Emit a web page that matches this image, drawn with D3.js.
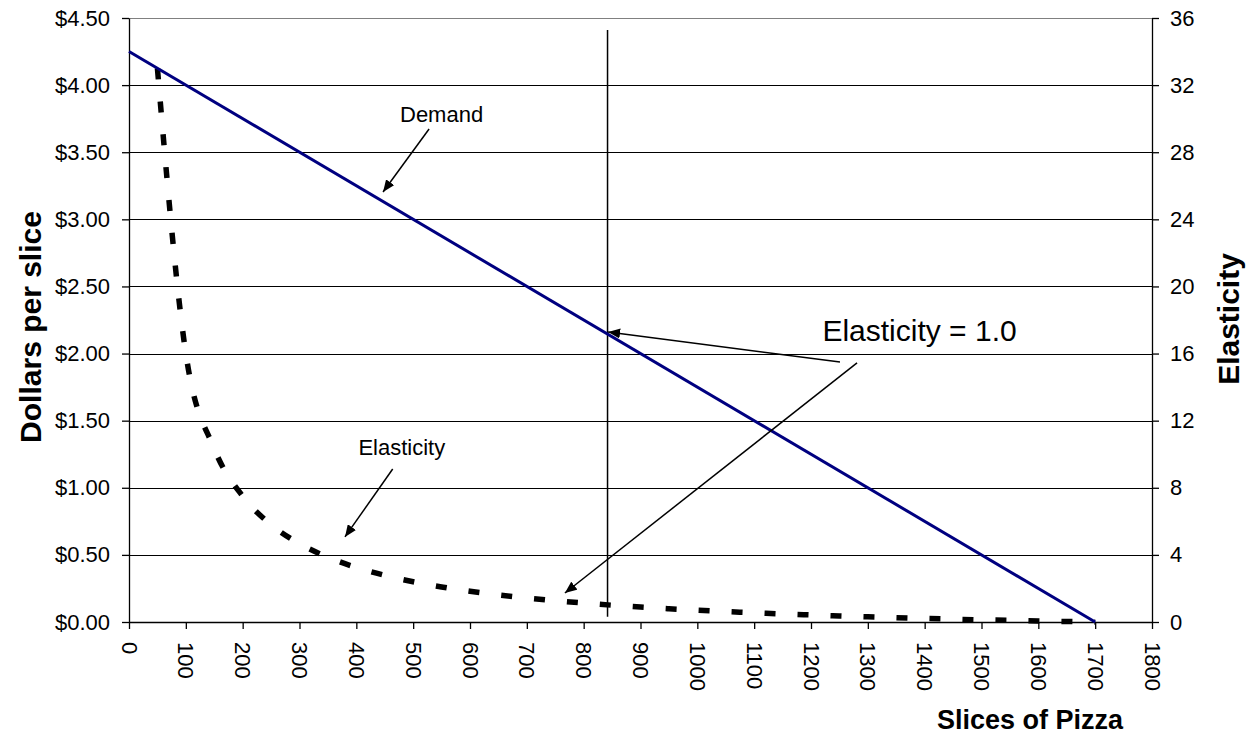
<!DOCTYPE html>
<html>
<head>
<meta charset="utf-8">
<script src="https://cdn.jsdelivr.net/npm/d3@7"></script>
<style>
  body { margin: 0; background: #fff; }
  svg { display: block; font-family: "Liberation Sans", Arial, sans-serif; }
</style>
</head>
<body>
<svg id="chart" width="1259" height="735"></svg>
<script>
// ---- Data ----
const demandQty = [0, 1700];
const demandPrice = [4.25, 0.00];

const elasticityQty = [50, 100, 150, 200, 250, 300, 350, 400, 450, 500, 550, 600, 650, 700, 750, 800, 850,
  900, 950, 1000, 1050, 1100, 1150, 1200, 1250, 1300, 1350, 1400, 1450, 1500, 1550, 1600, 1650, 1700];
const elasticityValues = [33, 16, 10.33, 7.5, 5.8, 4.67, 3.86, 3.25, 2.78, 2.4, 2.09, 1.83, 1.62, 1.43, 1.27, 1.13, 1.0,
  0.89, 0.79, 0.7, 0.62, 0.55, 0.48, 0.42, 0.36, 0.31, 0.26, 0.21, 0.17, 0.13, 0.1, 0.06, 0.03, 0];

const unitElasticQty = [842, 842];
const unitElasticPrice = [4.41, 0.04];

const xTicks = [0, 100, 200, 300, 400, 500, 600, 700, 800, 900, 1000, 1100, 1200, 1300, 1400, 1500, 1600, 1700, 1800];
const leftTicks = [0, 0.5, 1, 1.5, 2, 2.5, 3, 3.5, 4, 4.5];
const rightTicks = [0, 4, 8, 12, 16, 20, 24, 28, 32, 36];

// annotations in data coordinates (axis: "L" = price axis, "R" = elasticity axis)
const labels = [
  { text: "Demand", q: 550, v: 3.725, axis: "L", size: 22 },
  { text: "Elasticity", q: 480, v: 9.95, axis: "R", size: 22 },
  { text: "Elasticity = 1.0", q: 1391, v: 2.094, axis: "L", size: 30 }
];
const arrows = [
  { q1: 528, v1: 3.673, q2: 447, v2: 3.204, axis: "L" },
  { q1: 464, v1: 9.12, q2: 380, v2: 5.07, axis: "R" },
  { q1: 1251, v1: 1.937, q2: 843, v2: 2.161, axis: "L" },
  { q1: 1281, v1: 1.93, q2: 767, v2: 0.216, axis: "L" }
];

// ---- Layout ----
const svg = d3.select("#chart");
const mLeft = 129, mRight = 1152, mTop = 18, mBottom = 622;

const x = d3.scaleLinear().domain([0, 1800]).range([mLeft, mRight]);
const yL = d3.scaleLinear().domain([0, 4.5]).range([mBottom, mTop]);
const yR = d3.scaleLinear().domain([0, 36]).range([mBottom, mTop]);

// gridlines
svg.append("g").selectAll("line").data(leftTicks.filter(d => d > 0)).join("line")
  .attr("x1", mLeft).attr("x2", mRight)
  .attr("y1", d => Math.round(yL(d)) + 0.5).attr("y2", d => Math.round(yL(d)) + 0.5)
  .attr("stroke", d => d === 4.5 ? "#808080" : "#000").attr("stroke-width", 1);

// axes
const fmt = d3.format("$.2f");
const gL = svg.append("g").attr("transform", `translate(${mLeft},0)`)
  .call(d3.axisLeft(yL).tickValues(leftTicks).tickFormat(fmt).tickSize(7).tickPadding(12).tickSizeOuter(0));
const gR = svg.append("g").attr("transform", `translate(${mRight},0)`)
  .call(d3.axisRight(yR).tickValues(rightTicks).tickFormat(d3.format("d")).tickSize(7).tickPadding(11).tickSizeOuter(0));
const gX = svg.append("g").attr("transform", `translate(0,${mBottom})`)
  .call(d3.axisBottom(x).tickValues(xTicks).tickFormat(d3.format("d")).tickSize(7).tickSizeOuter(0));

[gL, gR, gX].forEach(g => {
  g.selectAll("path.domain").attr("stroke", "#000").attr("stroke-width", 1.3);
  g.selectAll(".tick line").attr("stroke", "#000").attr("stroke-width", 1.3);
  g.selectAll("text").attr("font-size", 22).attr("fill", "#000")
    .attr("font-family", "'Liberation Sans', Arial, sans-serif");
});
gX.selectAll(".tick text")
  .attr("transform", "rotate(90)")
  .attr("x", 20).attr("y", 0).attr("dy", "0.36em")
  .attr("text-anchor", "start");

// axis titles
svg.append("text").attr("transform", "translate(41,327) rotate(-90)")
  .attr("text-anchor", "middle").attr("font-weight", "bold").attr("font-size", 30)
  .text("Dollars per slice");
svg.append("text").attr("transform", "translate(1239,319) rotate(-90)")
  .attr("text-anchor", "middle").attr("font-weight", "bold").attr("font-size", 30)
  .text("Elasticity");
svg.append("text").attr("x", 1030).attr("y", 729)
  .attr("text-anchor", "middle").attr("font-weight", "bold").attr("font-size", 27)
  .text("Slices of Pizza");

// unit elastic vertical line
svg.append("line")
  .attr("x1", x(unitElasticQty[0])).attr("x2", x(unitElasticQty[1]))
  .attr("y1", yL(unitElasticPrice[0])).attr("y2", yL(unitElasticPrice[1]))
  .attr("stroke", "#000").attr("stroke-width", 1.5);

// elasticity curve (dashed)
const elastData = elasticityQty.map((q, i) => [q, elasticityValues[i]]);
svg.append("path").datum(elastData)
  .attr("fill", "none").attr("stroke", "#000").attr("stroke-width", 5.5)
  .attr("stroke-dasharray", "11,22")
  .attr("d", d3.line().x(d => x(d[0])).y(d => yR(d[1])).curve(d3.curveMonotoneX));

// demand line
const demandData = demandQty.map((q, i) => [q, demandPrice[i]]);
svg.append("path").datum(demandData)
  .attr("fill", "none").attr("stroke", "#000080").attr("stroke-width", 3)
  .attr("d", d3.line().x(d => x(d[0])).y(d => yL(d[1])));

// arrow marker
svg.append("defs").append("marker")
  .attr("id", "arrowhead").attr("viewBox", "0 0 12 10")
  .attr("refX", 12).attr("refY", 5)
  .attr("markerWidth", 12).attr("markerHeight", 10)
  .attr("markerUnits", "userSpaceOnUse").attr("orient", "auto")
  .append("path").attr("d", "M0,0 L12,5 L0,10 Z").attr("fill", "#000");

const yOf = a => a === "L" ? yL : yR;
svg.append("g").selectAll("line").data(arrows).join("line")
  .attr("x1", d => x(d.q1)).attr("y1", d => yOf(d.axis)(d.v1))
  .attr("x2", d => x(d.q2)).attr("y2", d => yOf(d.axis)(d.v2))
  .attr("stroke", "#000").attr("stroke-width", 1.5)
  .attr("marker-end", "url(#arrowhead)");

svg.append("g").selectAll("text").data(labels).join("text")
  .attr("x", d => x(d.q)).attr("y", d => yOf(d.axis)(d.v))
  .attr("text-anchor", "middle").attr("font-size", d => d.size).attr("fill", "#000")
  .text(d => d.text);
</script>
</body>
</html>
